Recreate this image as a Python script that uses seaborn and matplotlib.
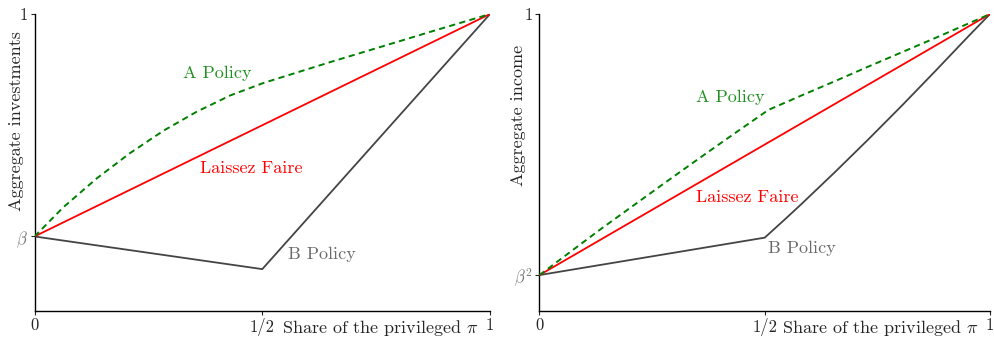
import matplotlib
matplotlib.use("Agg")
import matplotlib.pyplot as plt
import seaborn as sns
import pandas as pd

# ---- data ----
share = [0.0, 0.5, 1.0]

# left panel: aggregate investments
beta = 0.251
lf_inv_x = [0.0, 1.0]
lf_inv_y = [beta, 1.0]
a_inv_x = [0.0, 0.063, 0.137, 0.210, 0.283, 0.356, 0.430, 0.503, 0.649, 0.796, 0.869, 1.0]
a_inv_y = [beta, 0.349, 0.447, 0.532, 0.607, 0.671, 0.726, 0.768, 0.838, 0.906, 0.940, 1.0]
b_inv_x = [0.0, 0.5, 1.0]
b_inv_y = [beta, 0.141, 1.0]

# right panel: aggregate income
beta2 = 0.121
lf_inc_x = [0.0, 1.0]
lf_inc_y = [beta2, 1.0]
a_inc_x = [0.0, 0.064, 0.138, 0.212, 0.286, 0.360, 0.434, 0.508, 0.582, 0.656, 0.730, 0.804, 0.878, 0.952, 1.0]
a_inc_y = [beta2, 0.194, 0.278, 0.359, 0.440, 0.520, 0.599, 0.677, 0.726, 0.774, 0.823, 0.871, 0.919, 0.968, 1.0]
b_inc_x = [0.0, 0.5, 0.545, 0.582, 0.656, 0.730, 0.804, 0.878, 0.952, 1.0]
b_inc_y = [beta2, 0.247, 0.309, 0.361, 0.468, 0.578, 0.691, 0.807, 0.925, 1.0]

xtick_labels = ["0", "1/2", "1"]

sns.set_style("ticks")
plt.rcParams["font.family"] = ["cmr10", "DejaVu Serif"]
plt.rcParams["mathtext.fontset"] = "cm"
plt.rcParams["axes.unicode_minus"] = False

fig = plt.figure(figsize=(9.95, 3.4), dpi=100)
ax1 = fig.add_axes([0.0347, 0.0853, 0.4578, 0.8735])
ax2 = fig.add_axes([0.5422, 0.0853, 0.4528, 0.8735])

GREEN = "#008000"
GREEN_T = "#1f8f1f"
RED = "#ff0000"
GREY = "#444444"
GREY_T = "#6a6a6a"
FS = 13


def panel(ax, lf, a, b, base, base_label, ylabel, ylab_xy, xlab_x, labels):
    sns.lineplot(x=lf[0], y=lf[1], ax=ax, color=RED, lw=1.3, zorder=3)
    sns.lineplot(x=a[0], y=a[1], ax=ax, color=GREEN, lw=1.4, zorder=4)
    ax.lines[-1].set_dashes((3.2, 2.2))
    sns.lineplot(x=b[0], y=b[1], ax=ax, color=GREY, lw=1.3, zorder=2)
    for ln in ax.lines:
        ln.set_solid_joinstyle("round")
        ln.set_dash_joinstyle("round")
    ax.set_xlim(0, 1)
    ax.set_ylim(0, 1)
    sns.despine(ax=ax)
    for s in ["left", "bottom"]:
        ax.spines[s].set_linewidth(1.0)
        ax.spines[s].set_color("black")
    ax.set_xticks(share)
    ax.set_xticklabels(xtick_labels, fontsize=12)
    ax.set_yticks([base, 1.0])
    ax.set_yticklabels([base_label, "1"], fontsize=12)
    ax.get_yticklabels()[0].set_color("#777777")
    ax.tick_params(axis="both", length=3, width=0.8, pad=2)
    ax.set_ylabel(ylabel, fontsize=FS)
    ax.yaxis.set_label_coords(*ylab_xy)
    ax.set_xlabel(r"Share of the privileged $\pi$", fontsize=FS, va="top")
    ax.xaxis.set_label_coords(xlab_x, -0.022)
    (ax_, ay_), (lx, ly), (bx, by) = labels
    ax.text(ax_, ay_, "A Policy", color=GREEN_T, fontsize=FS, ha="center", va="center")
    ax.text(lx, ly, "Laissez Faire", color=RED, fontsize=FS, ha="center", va="center")
    ax.text(bx, by, "B Policy", color=GREY_T, fontsize=FS, ha="center", va="center")


panel(ax1, (lf_inv_x, lf_inv_y), (a_inv_x, a_inv_y), (b_inv_x, b_inv_y),
      beta, r"$\beta$", "Aggregate investments", (-0.024, 0.64), 0.759,
      ((0.402, 0.80), (0.475, 0.48), (0.631, 0.19)))
panel(ax2, (lf_inc_x, lf_inc_y), (a_inc_x, a_inc_y), (b_inc_x, b_inc_y),
      beta2, r"$\beta^2$", "Aggregate income", (-0.031, 0.66), 0.757,
      ((0.424, 0.72), (0.462, 0.382), (0.582, 0.21)))

fig.savefig("out.png", dpi=100)
